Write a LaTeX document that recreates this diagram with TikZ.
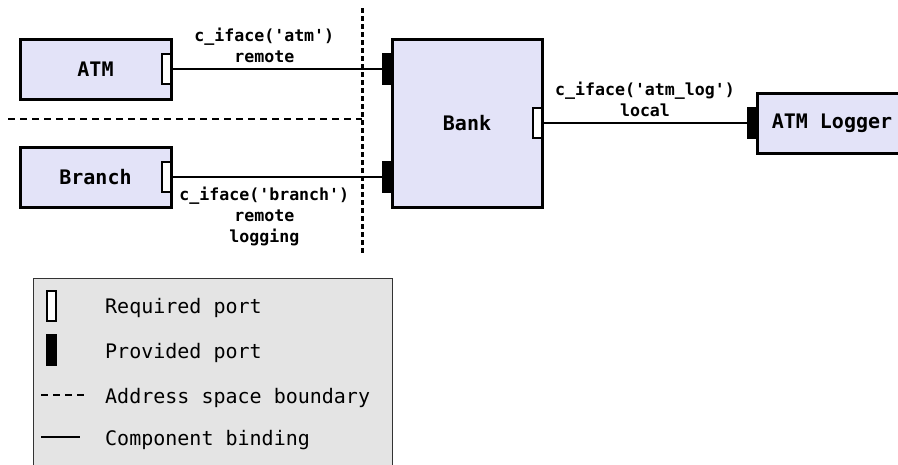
\documentclass[tikz,border=0pt]{standalone}
\usepackage{fontspec}
\setmonofont{DejaVu Sans Mono}
\usetikzlibrary{positioning}
\definecolor{compfill}{HTML}{E3E3F8}
\definecolor{legendfill}{HTML}{E4E4E4}
\definecolor{legendline}{HTML}{333333}

\begin{document}
\begin{tikzpicture}[x=1pt,y=-1pt,line join=miter]
\tikzstyle{every node}=[font=\ttfamily]
\tikzstyle{comp}=[draw,line width=3pt,fill=compfill,minimum width=151pt,minimum height=60pt,inner sep=0pt,outer sep=0pt,font=\fontsize{20}{24}\selectfont\ttfamily\bfseries]
\tikzstyle{reqport}=[draw,line width=1.5pt,fill=white,minimum width=9pt,minimum height=30pt,inner sep=0pt,outer sep=0pt]
\tikzstyle{provport}=[reqport,fill=black]
\tikzstyle{bind}=[line width=2.4pt]
\tikzstyle{hbound}=[line width=2.8pt,dash pattern=on 7pt off 5pt]
\tikzstyle{vbound}=[line width=3pt,dash pattern=on 4.5pt off 3.5pt]
\tikzstyle{lbl}=[align=center,inner sep=5pt,font=\fontsize{16.6}{21}\selectfont\ttfamily\bfseries]
\tikzstyle{legtext}=[anchor=base west,inner sep=0pt,font=\fontsize{20}{24}\selectfont\ttfamily]
\useasboundingbox (0,0) rectangle (898,464);

\path node[comp] at (95.5,69) (atm) {ATM};
\path node[comp,below=48pt of atm] (branch) {Branch};
\path node[comp,minimum width=150pt,minimum height=168pt] at (467,123) (bank) {Bank};
\path node[comp,minimum width=150pt] at (832,123) (logger) {ATM Logger};

\path node[reqport,left=0pt of atm.east] (atmreq) {};
\path node[reqport,left=0pt of branch.east] (branchreq) {};
\path node[provport,anchor=east] at (bank.west |- atmreq) (bankatm) {};
\path node[provport,anchor=east] at (bank.west |- branchreq) (bankbranch) {};
\path node[reqport,left=0pt of bank.east] (banklog) {};
\path node[provport,left=0pt of logger.west] (loggerprov) {};

\draw[bind] (atmreq) -- node[lbl,above,pos=0.44] {c\_iface('atm')\\remote} (bankatm);
\draw[bind] (branchreq) -- node[lbl,below,pos=0.44,inner sep=9pt] {c\_iface('branch')\\remote\\logging} (bankbranch);
\draw[bind] (banklog) -- node[lbl,above] {c\_iface('atm\_log')\\local} (loggerprov);

\coordinate (btop) at (362,8);
\coordinate (bbot) at (362,255);
\coordinate (hleft) at (8,119);
\draw[vbound] (btop) -- (bbot);
\draw[hbound] (hleft) -- (hleft -| btop);

\path node[draw=legendline,line width=1.2pt,fill=legendfill,minimum width=359pt,minimum height=220pt,inner sep=0pt,anchor=north west] at (33,278) (legend) {};
\path node[reqport,anchor=north west] at (47,291) (lreq) {};
\path node[provport,below=14pt of lreq] (lprov) {};
\coordinate (ldash) at (41,395);
\coordinate (lbind) at (41,437);
\draw[hbound] (ldash) -- ++(43,0);
\draw[bind,line width=2.8pt] (lbind) -- ++(39,0);
\path node[legtext] at (105,313) (treq) {Required port};
\path node[legtext] at (105,358) (tprov) {Provided port};
\path node[legtext] at (105,403) (tbound) {Address space boundary};
\path node[legtext] at (105,445) (tbind) {Component binding};
\end{tikzpicture}
\end{document}
